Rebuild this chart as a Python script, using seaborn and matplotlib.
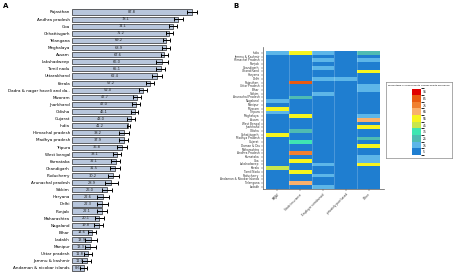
import numpy as np
import pandas as pd
import matplotlib
matplotlib.use("Agg")
import matplotlib.pyplot as plt
import seaborn as sns
from matplotlib.colors import ListedColormap, BoundaryNorm
from matplotlib.colorbar import ColorbarBase

# --- Panel A data: coverage by state (sorted) ---
states_a = ["Rajasthan", "Andhra pradesh", "Goa", "Chhattisgarh", "Telangana", "Meghalaya",
            "Assam", "Lakshadweep", "Tamil nadu", "Uttarakhand", "Kerala",
            "Dadra & nagar haveli and da..", "Mizoram", "Jharkhand", "Odisha", "Gujarat",
            "India", "Himachal pradesh", "Madhya pradesh", "Tripura", "West bengal",
            "Karnataka", "Chandigarh", "Puducherry", "Arunachal pradesh", "Sikkim", "Haryana",
            "Delhi", "Punjab", "Maharashtra", "Nagaland", "Bihar", "Ladakh", "Manipur",
            "Uttar pradesh", "Jammu & kashmir", "Andaman & nicobar islands"]
coverage = [87.8, 78.1, 74.1, 71.2, 69.2, 68.9, 67.6, 66.0, 65.1, 62.4, 57.2, 52.0, 47.7,
            47.0, 46.1, 43.0, 41.2, 38.2, 37.9, 36.8, 33.1, 32.1, 31.5, 30.2, 28.9, 26.0,
            22.6, 22.3, 22.1, 20.1, 19.8, 14.6, 13.9, 13.3, 11.8, 11.0, 8.6]
ci_half = [3.8, 3.2, 3.0, 2.6, 2.8, 3.0, 2.6, 4.2, 3.3, 3.6, 2.6, 3.2, 3.0, 2.7, 2.6, 3.0,
           1.2, 3.5, 3.1, 3.8, 3.0, 3.2, 3.6, 4.0, 4.5, 3.7, 4.2, 4.3, 3.8, 3.4, 3.3, 2.7,
           4.3, 4.0, 3.2, 3.3, 2.5]

# --- Panel B data: scheme type by state ---
states_b = ["India", "Jammu & Kashmir", "Himachal Pradesh", "Punjab", "Chandigarh",
            "Uttarakhand", "Haryana", "Delhi", "Rajasthan", "Uttar Pradesh", "Bihar", "Sikkim",
            "Arunachal Pradesh", "Nagaland", "Manipur", "Mizoram", "Tripura", "Meghalaya",
            "Assam", "West Bengal", "Jharkhand", "Odisha", "Chhattisgarh", "Madhya Pradesh",
            "Gujarat", "Daman & Diu", "Maharashtra", "Andhra Pradesh", "Karnataka", "Goa",
            "Lakshadweep", "Kerala", "Tamil Nadu", "Puducherry", "Andaman & Nicobar Islands",
            "Telangana", "Ladakh"]
schemes = ["PMJAY", "State insurance", "Employer reimbursed", "privately purchased", "Other"]
pmjay = [14, 4, 4, 4, 3, 4, 4, 2, 4, 5, 4, 5, 4, 12, 6, 55, 13, 5, 4, 3, 8, 5, 55, 8, 4,
         3, 4, 3, 5, 2, 3, 45, 3, 5, 2, 3, 4]
state_ins = [55, 3, 4, 5, 3, 4, 4, 3, 82, 4, 3, 5, 28, 4, 5, 4, 4, 55, 4, 5, 6, 28, 5, 4, 30,
             4, 5, 78, 5, 55, 4, 6, 55, 5, 4, 65, 4]
employer = [12, 5, 12, 5, 14, 6, 6, 14, 4, 4, 3, 12, 6, 5, 6, 5, 5, 4, 4, 5, 5, 4, 3, 4, 5,
            6, 6, 3, 6, 5, 12, 5, 6, 12, 8, 4, 14]
private = [6, 3, 5, 4, 5, 4, 4, 12, 3, 3, 2, 5, 3, 3, 3, 3, 3, 4, 3, 3, 3, 3, 2, 3, 4, 4, 5,
           3, 5, 5, 3, 6, 4, 5, 4, 3, 3]
other = [22, 4, 12, 5, 5, 55, 4, 5, 3, 12, 12, 5, 5, 4, 4, 3, 4, 14, 65, 4, 55, 4, 5, 25, 4,
         55, 5, 3, 14, 14, 55, 5, 4, 5, 5, 3, 4]
levels = [0, 10, 20, 30, 40, 50, 60, 70, 80, 90, 100]
level_colors = ["#1f7ed0", "#5db6e8", "#4fbcb2", "#3fe6b2", "#c8e64e", "#f7f41e",
                "#f8b06c", "#f08030", "#e85a10", "#e00000"]

fig = plt.figure(figsize=(4.55, 2.74), dpi=100)
W, H = 455, 274


def px_axes(left, top, right, bottom):
    return fig.add_axes([left / W, 1 - bottom / H, (right - left) / W, (bottom - top) / H])


# --- A: bar chart with CIs ---
df_a = pd.DataFrame({"state": states_a, "coverage": coverage, "ci": ci_half})
ax_a = px_axes(72, 8.4, 201.5, 271.5)
sns.barplot(data=df_a, y="state", x="coverage", orient="h", ax=ax_a, color="#b8c6dc",
            edgecolor="#2a2a2a", linewidth=0.5, width=0.72, errorbar=None, saturation=1)
ax_a.errorbar(df_a["coverage"], np.arange(len(df_a)), xerr=df_a["ci"], fmt="none",
              ecolor="black", elinewidth=0.7, capsize=1.3, capthick=0.7)
for i, v in enumerate(coverage):
    ax_a.text(v / 2, i, f"{v:.1f}", ha="center", va="center", fontsize=2.6, color="#222")
ax_a.set_xlim(0, 95)
ax_a.set_ylim(36.5, -0.5)
ax_a.set_xlabel("")
ax_a.set_ylabel("")
ax_a.set_xticks([])
ax_a.tick_params(axis="y", length=0, labelsize=3.0, pad=1.5)
for s in ax_a.spines.values():
    s.set_visible(False)

# --- B: heatmap ---
df_b = pd.DataFrame({schemes[0]: pmjay, schemes[1]: state_ins, schemes[2]: employer,
                     schemes[3]: private, schemes[4]: other}, index=states_b)
cmap = ListedColormap(level_colors)
norm = BoundaryNorm(levels, cmap.N)
ax_b = px_axes(262.7, 46.7, 384, 189.3)
sns.heatmap(df_b, ax=ax_b, cmap=cmap, norm=norm, cbar=False,
            xticklabels=schemes, yticklabels=states_b)
for x in range(1, 5):
    ax_b.axvline(x, color="white", alpha=0.35, lw=0.4)
ax_b.set_xlim(-0.145, 5.175)
ax_b.set_ylim(37.19, -1.16)
for side in ["left", "bottom"]:
    ax_b.spines[side].set_visible(True)
    ax_b.spines[side].set_color("#555")
    ax_b.spines[side].set_linewidth(0.5)
ax_b.tick_params(axis="both", length=1.5, width=0.3, labelsize=2.1, pad=0.8, colors="#333")
ax_b.set_xticklabels(schemes, rotation=45, ha="right", rotation_mode="anchor")
ax_b.set_yticklabels(states_b, rotation=0)

# --- legend box with discrete colorbar ---
ax_box = px_axes(386, 82, 452, 158)
ax_box.set_xticks([])
ax_box.set_yticks([])
for s in ax_box.spines.values():
    s.set_color("#888")
    s.set_linewidth(0.5)
ax_box.text(0.5, 0.95, "Percentage of respondents having health insurance", ha="center",
            va="center", fontsize=1.7, transform=ax_box.transAxes)
ax_cb = px_axes(412, 88.5, 420.5, 155)
cb = ColorbarBase(ax_cb, cmap=cmap, norm=norm, orientation="vertical")
cb.set_ticks([5, 15, 25, 35, 45, 55, 65, 75, 85, 95])
cb.outline.set_visible(False)
ax_cb.tick_params(length=0, labelsize=2.2, pad=1.5)

fig.text(3 / W, 1 - 6 / H, "A", fontsize=5, fontweight="bold", va="center")
fig.text(233 / W, 1 - 6 / H, "B", fontsize=5, fontweight="bold", va="center")

fig.savefig("out.png", dpi=100)
